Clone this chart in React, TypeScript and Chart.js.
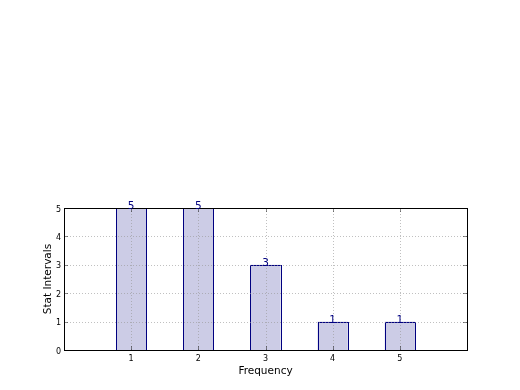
import React, { useEffect, useRef } from "react";
import { Chart, registerables } from "chart.js";

Chart.register(...registerables);

const categories = [1, 2, 3, 4, 5];
const counts = [5, 5, 3, 1, 1];
const yTicks = [0, 1, 2, 3, 4, 5];
const xLabel = "Frequency";
const yLabel = "Stat Intervals";

const FONT = "'DejaVu Sans', sans-serif";

const overlayPlugin = {
  id: "mplOverlay",
  afterDatasetsDraw(chart: any) {
    const { ctx, chartArea, scales } = chart;
    const { left, right, top, bottom } = chartArea;
    const xs = scales.x;
    const ys = scales.y;
    ctx.save();
    // crisp bar outlines
    const meta = chart.getDatasetMeta(0);
    ctx.strokeStyle = "#000080";
    ctx.lineWidth = 1;
    meta.data.forEach((bar: any) => {
      const x0 = Math.round(bar.x - bar.width / 2) + 0.5;
      const x1 = Math.round(bar.x + bar.width / 2) + 0.5;
      const y0 = Math.round(bar.y) + 0.5;
      const y1 = Math.round(bar.base) + 0.5;
      ctx.strokeRect(x0, y0, x1 - x0, y1 - y0);
    });
    // grid (drawn over bars, like matplotlib classic)
    ctx.strokeStyle = "rgba(150,150,150,0.6)";
    ctx.lineWidth = 1;
    ctx.setLineDash([1, 2]);
    categories.forEach((c) => {
      const px = Math.round(xs.getPixelForValue(c)) + 0.5;
      ctx.beginPath();
      ctx.moveTo(px, top);
      ctx.lineTo(px, bottom);
      ctx.stroke();
    });
    yTicks.forEach((t) => {
      const py = Math.round(ys.getPixelForValue(t)) + 0.5;
      ctx.beginPath();
      ctx.moveTo(left, py);
      ctx.lineTo(right, py);
      ctx.stroke();
    });
    ctx.setLineDash([]);
    // inward ticks
    ctx.strokeStyle = "rgba(0,0,0,0.45)";
    categories.forEach((c) => {
      const px = Math.round(xs.getPixelForValue(c)) + 0.5;
      ctx.beginPath();
      ctx.moveTo(px, bottom);
      ctx.lineTo(px, bottom - 4);
      ctx.moveTo(px, top);
      ctx.lineTo(px, top + 4);
      ctx.stroke();
    });
    yTicks.forEach((t) => {
      const py = Math.round(ys.getPixelForValue(t)) + 0.5;
      ctx.beginPath();
      ctx.moveTo(left, py);
      ctx.lineTo(left + 4, py);
      ctx.moveTo(right, py);
      ctx.lineTo(right - 4, py);
      ctx.stroke();
    });
    // frame
    ctx.strokeStyle = "#000";
    ctx.lineWidth = 1;
    ctx.strokeRect(Math.round(left) + 0.5, Math.round(top) + 0.5, Math.round(right - left), Math.round(bottom - top));
    // bar value labels
    ctx.fillStyle = "#000080";
    ctx.font = `10.5px ${FONT}`;
    ctx.textAlign = "center";
    ctx.textBaseline = "alphabetic";
    categories.forEach((c, i) => {
      const px = xs.getPixelForValue(c);
      const py = ys.getPixelForValue(counts[i]);
      ctx.fillText(String(counts[i]), px, py + 1);
    });
    // axis titles
    ctx.fillStyle = "#000";
    ctx.font = `10.5px ${FONT}`;
    ctx.textBaseline = "middle";
    ctx.fillText(xLabel, (left + right) / 2, bottom + 21);
    ctx.translate(left - 16, (top + bottom) / 2);
    ctx.rotate(-Math.PI / 2);
    ctx.fillText(yLabel, 0, 0);
    ctx.restore();
  },
};

export default function App() {
  const ref = useRef<HTMLCanvasElement | null>(null);
  useEffect(() => {
    if (!ref.current) return;
    const chart = new Chart(ref.current, {
      type: "bar",
      data: {
        datasets: [
          {
            data: categories.map((c, i) => ({ x: c, y: counts[i] })),
            backgroundColor: "rgba(0,0,128,0.2)",
            borderWidth: 0,
            barPercentage: 0.45,
            categoryPercentage: 1,
          },
        ],
      },
      options: {
        animation: false,
        responsive: false,
        maintainAspectRatio: false,
        layout: { padding: { left: 0, top: 208, right: 53, bottom: 0 } },
        plugins: { legend: { display: false }, tooltip: { enabled: false } },
        scales: {
          x: {
            type: "linear",
            min: 0,
            max: 6,
            offset: false,
            afterBuildTicks: (s: any) => {
              s.ticks = categories.map((v) => ({ value: v }));
            },
            afterFit: (s: any) => {
              s.height = 40;
            },
            grid: { display: false, drawTicks: false },
            border: { display: false },
            ticks: {
              padding: 4,
              color: "#000",
              font: { family: FONT, size: 8 },
              maxRotation: 0,
              autoSkip: false,
            },
          },
          y: {
            min: 0,
            max: 5,
            afterBuildTicks: (s: any) => {
              s.ticks = yTicks.map((v) => ({ value: v }));
            },
            afterFit: (s: any) => {
              s.width = 64;
            },
            grid: { display: false, drawTicks: false },
            border: { display: false },
            ticks: {
              padding: 3,
              labelOffset: 1.5,
              color: "#000",
              font: { family: FONT, size: 8 },
            },
          },
        },
      },
      plugins: [overlayPlugin],
    });
    return () => chart.destroy();
  }, []);
  return (
    <div style={{ position: "absolute", left: 0, top: 0, width: 520, height: 390, background: "#fff" }}>
      <canvas ref={ref} width={520} height={390} />
    </div>
  );
}
